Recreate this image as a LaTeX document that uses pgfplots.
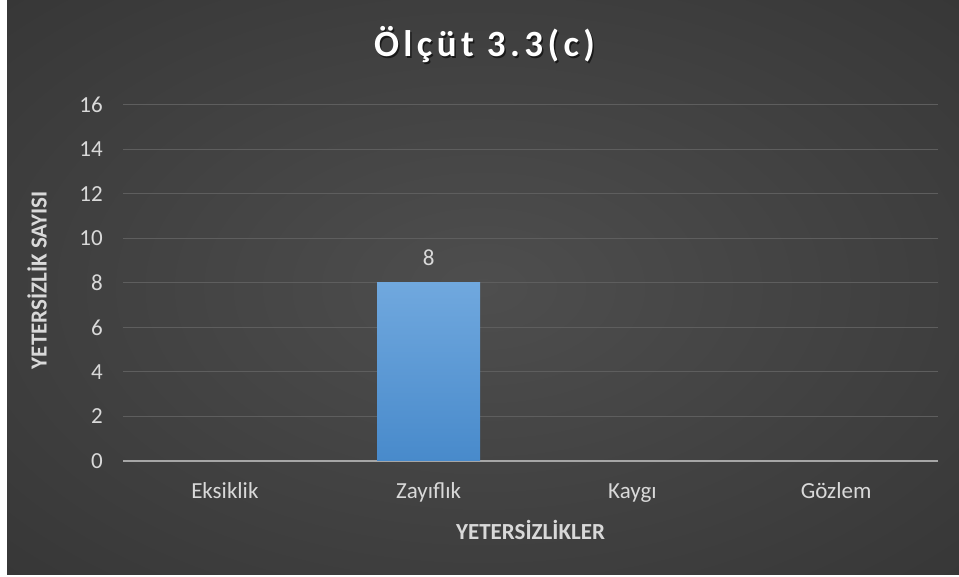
\documentclass[border=0pt]{standalone}
\usepackage{fontspec}
\setmainfont{Carlito}
\usepackage{pgfplots}
\pgfplotsset{compat=1.18}
\definecolor{bgin}{HTML}{4E4E4E}
\definecolor{bgout}{HTML}{202020}
\definecolor{txt}{HTML}{D9D9D9}
\definecolor{gridc}{HTML}{5E5E5E}
\definecolor{axc}{HTML}{A6A6A6}
\definecolor{barT}{HTML}{70A8DE}
\definecolor{barB}{HTML}{488ACB}
\pgfdeclareradialshading{bgshade}{\pgfpoint{0bp}{0bp}}{color(0bp)=(bgin); color(71bp)=(bgout)}
\begin{document}
\begin{tikzpicture}[x=1pt,y=1pt]
\fill[white] (0,0) rectangle (959,577);
\shade[shading=bgshade] (7,2) rectangle (959,577);
\node[font=\bfseries\fontsize{37}{42}\selectfont\addfontfeatures{LetterSpace=12}, text=black, opacity=0.6, anchor=base] at (486,518.5) {Ölçüt 3.3(c)};
\node[font=\bfseries\fontsize{37}{42}\selectfont\addfontfeatures{LetterSpace=12}, text=white, anchor=base] at (484.5,520) {Ölçüt 3.3(c)};
\begin{axis}[
  at={(123pt,116pt)}, anchor=south west, scale only axis,
  width=815pt, height=356pt,
  xmin=-0.5, xmax=3.5, ymin=0, ymax=16,
  ytick={0,2,...,16}, xtick={0,1,2,3},
  xticklabels={Eksiklik,Zayıflık,Kaygı,Gözlem},
  axis x line=bottom, axis y line=left,
  x axis line style={draw=axc, line width=2pt, -},
  y axis line style={draw=none},
  major tick length=0pt, tick style={draw=none},
  ymajorgrids, grid style={draw=gridc, line width=1pt},
  /pgf/number format/assume math mode=true,
  ticklabel style={font=\fontsize{23}{27}\selectfont, text=txt},
  xticklabel style={anchor=base, inner sep=0pt, yshift=-38pt},
  yticklabel style={anchor=east, inner sep=0pt, xshift=-20pt},
  xlabel={YETERSİZLİKLER}, ylabel={YETERSİZLİK SAYISI},
  label style={font=\bfseries\fontsize{23}{27}\selectfont, text=txt},
  xlabel style={at={(axis description cs:0.5,-0.194)}, anchor=center},
  ylabel style={at={(axis description cs:-0.1055,0.508)}, anchor=center},
  clip=false,
]
\addplot[ybar, bar width=103pt, bar shift=0pt, draw=none, top color=barT, bottom color=barB,
  skip coords between index={0}{1}, skip coords between index={2}{4},
  nodes near coords,
  nodes near coords style={font=\fontsize{23}{27}\selectfont, text=txt, inner sep=0pt, anchor=base, yshift=17pt}]
  coordinates {(0,0) (1,8) (2,0) (3,0)};
\end{axis}
\end{tikzpicture}
\end{document}
